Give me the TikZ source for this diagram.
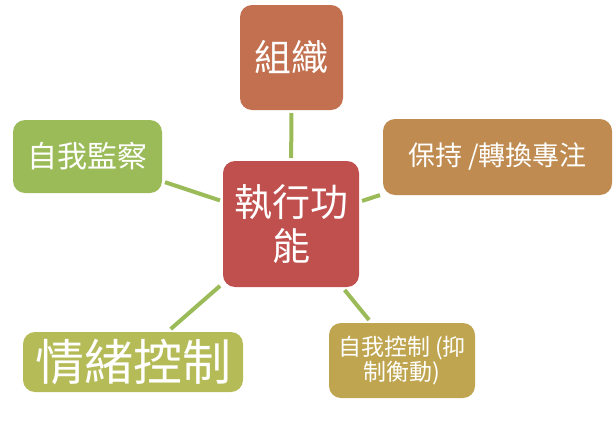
\documentclass[tikz,border=0pt]{standalone}
\usepackage{fontspec}
\setmainfont{Noto Sans CJK TC}
\definecolor{cred}{HTML}{C0504D}
\definecolor{corg}{HTML}{C2704F}
\definecolor{cbrn}{HTML}{BF8B51}
\definecolor{cgld}{HTML}{BFA550}
\definecolor{colv}{HTML}{B5BB57}
\definecolor{cgrn}{HTML}{9BBB59}
\definecolor{linkgreen}{HTML}{9BBB59}
\begin{document}
\begin{tikzpicture}[x=1pt,y=-1pt,
  box/.style={rectangle, rounded corners=12pt, text=white, align=center, inner sep=0pt, outer sep=3pt, draw=none},
  link/.style={draw=linkgreen, line width=4pt}]
\useasboundingbox (0,0) rectangle (616,426);
\node[box, fill=cred, minimum width=136pt, minimum height=126pt, font=\fontsize{38}{44}\selectfont] (c) at (291,224) {執行功\\能};
\node[box, fill=corg, minimum width=103pt, minimum height=105pt, font=\fontsize{37}{44}\selectfont] (top) at (291.5,57.5) {組織};
\node[box, fill=cbrn, minimum width=229pt, minimum height=76pt, font=\fontsize{27}{32}\selectfont] (r) at (497.5,157) {保持 /轉換專注};
\node[box, fill=cgld, minimum width=146pt, minimum height=75pt, font=\fontsize{23}{25}\selectfont] (br) at (402,360.5) {自我控制 (抑\\制衡動)};
\node[box, fill=colv, minimum width=220pt, minimum height=60pt, font=\fontsize{49}{54}\selectfont] (bl) at (133,362) {情緒控制};
\node[box, fill=cgrn, minimum width=149pt, minimum height=73pt, font=\fontsize{30}{36}\selectfont] (tl) at (87.5,156.5) {自我監察};
\draw[link] (c) -- (top);
\draw[link] (c) -- (r);
\draw[link] (c) -- (br);
\draw[link] (c) -- (bl);
\draw[link] (c) -- (tl);
\end{tikzpicture}
\end{document}
